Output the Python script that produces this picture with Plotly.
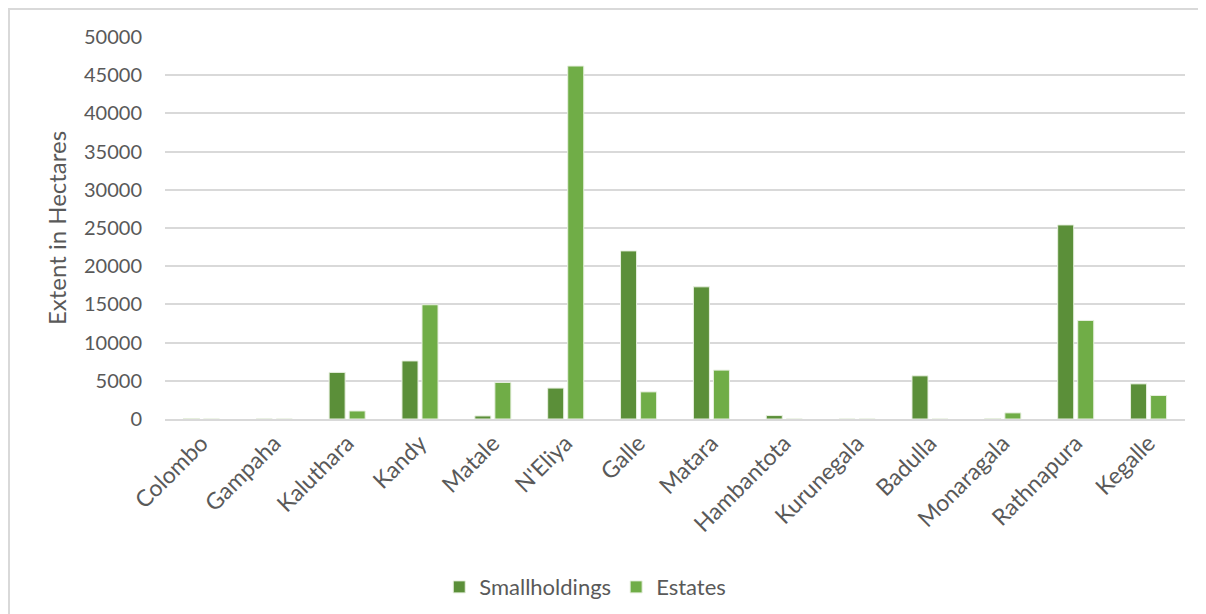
import plotly.graph_objects as go

districts = ["Colombo", "Gampaha", "Kaluthara", "Kandy", "Matale", "N'Eliya", "Galle",
             "Matara", "Hambantota", "Kurunegala", "Badulla", "Monaragala", "Rathnapura", "Kegalle"]
smallholdings = [40, 10, 6100, 7600, 400, 4050, 22000, 17300, 450, 0, 5650, 60, 25400, 4600]
estates = [0, 0, 1050, 14950, 4780, 46200, 3550, 6400, 0, 0, 0, 800, 12900, 3080]
y_ticks = list(range(0, 50001, 5000))

FONT = "Lato"
GREY = "#595959"

W, H = 1198, 606
ML, MR, MT, MB = 157, 21, 29, 195
PW, PH = W - ML - MR, H - MT - MB

fig = go.Figure()
fig.add_trace(go.Bar(name="Smallholdings", x=districts, y=smallholdings,
                     marker=dict(color="#5b8f39", line=dict(color="#e8f0e0", width=1))))
fig.add_trace(go.Bar(name="Estates", x=districts, y=estates,
                     marker=dict(color="#70ad47", line=dict(color="#e8f0e0", width=1))))

fig.update_layout(
    width=W, height=H,
    margin=dict(l=ML, r=MR, t=MT, b=MB, autoexpand=False),
    paper_bgcolor="white", plot_bgcolor="white",
    barmode="group", bargap=0.45, bargroupgap=0.2,
    font=dict(family=FONT, size=20, color=GREY),
    xaxis=dict(tickangle=-45, showgrid=False, showline=True, linecolor="#d9d9d9",
               linewidth=1.5, ticks="", automargin=False, tickfont=dict(size=23, color=GREY)),
    yaxis=dict(range=[0, 50000], tickvals=y_ticks, tickformat="d", showgrid=True,
               gridcolor="#d9d9d9", gridwidth=1.5, zeroline=False, ticks="", automargin=False,
               ticklabelstandoff=22, tickfont=dict(size=20, color=GREY),
               title=dict(text="Extent in Hectares", font=dict(size=24, color=GREY), standoff=10)),
    legend=dict(orientation="h", x=0.412, xanchor="center", y=-0.44, yanchor="middle",
                font=dict(size=22, color=GREY), itemwidth=30, traceorder="normal"),
    shapes=[dict(type="rect", xref="paper", yref="paper",
                 x0=-(ML - 1) / PW, x1=(W - ML + 20) / PW,
                 y0=-(MB + 20) / PH, y1=(PH + MT - 1) / PH,
                 line=dict(color="#d9d9d9", width=2), fillcolor="rgba(0,0,0,0)", layer="below")],
)

fig.write_html("out.html")
